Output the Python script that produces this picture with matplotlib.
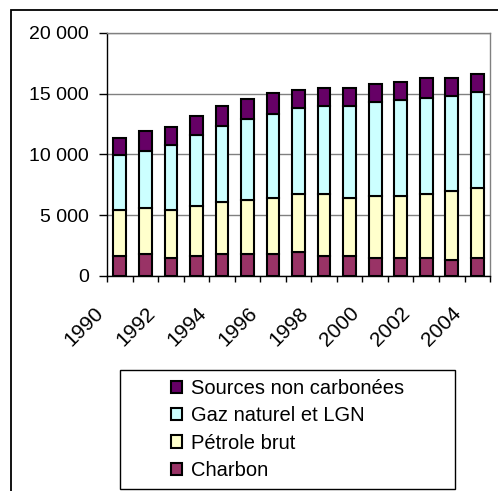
import numpy as np
import matplotlib.pyplot as plt
from matplotlib.patches import Rectangle
from matplotlib.ticker import FuncFormatter
from matplotlib.transforms import ScaledTranslation

plt.rcParams['font.family'] = ['Liberation Sans', 'DejaVu Sans']

# Données
annees = [str(a) for a in range(1990, 2005)]
charbon = [1600, 1790, 1480, 1620, 1790, 1790, 1790, 1950, 1620, 1620, 1460, 1460, 1460, 1320, 1460]
petrole = [3810, 3790, 3930, 4150, 4280, 4450, 4610, 4800, 5110, 4780, 5110, 5110, 5270, 5710, 5770]
gaz = [4540, 4720, 5390, 5850, 6240, 6700, 6900, 7030, 7230, 7560, 7740, 7910, 7890, 7750, 7880]
non_carb = [1400, 1600, 1430, 1570, 1670, 1590, 1730, 1550, 1510, 1510, 1510, 1510, 1670, 1510, 1510]

series = [charbon, petrole, gaz, non_carb]
noms = ['Charbon', 'Pétrole brut', 'Gaz naturel et LGN', 'Sources non carbonées']
couleurs = ['#993366', '#FFFFCC', '#CCFFFF', '#660066']

fig = plt.figure(figsize=(4.98, 4.91), dpi=100)
ax = fig.add_axes([0.215, 0.438, 0.769, 0.495])

x = np.arange(len(annees))
bas = np.zeros(len(annees))
barres = []
for vals, nom, c in zip(series, noms, couleurs):
    b = ax.bar(x, vals, 0.5, bottom=bas, color=c, edgecolor='black', linewidth=1.5, label=nom, zorder=3)
    barres.append(b)
    bas += np.array(vals)

ax.set_xlim(-0.5, len(annees) - 0.5)
ax.set_ylim(0, 20000)
ax.set_yticks([0, 5000, 10000, 15000, 20000])
ax.yaxis.set_major_formatter(FuncFormatter(lambda v, p: f"{int(v):,}".replace(",", " ")))
ax.yaxis.grid(True, color='#808080', linewidth=1, zorder=0)

ax.set_xticks(np.arange(-0.5, len(annees)), minor=True)
ax.set_xticks(x[::2])
ax.set_xticklabels([])
ax.tick_params(axis='x', which='major', length=0)
ax.tick_params(axis='x', which='minor', length=4, width=1, direction='out')
ax.tick_params(axis='y', length=6, width=1, labelsize=14, pad=7)

# années en diagonale sous l'axe
decal = ax.get_xaxis_transform() + ScaledTranslation(-0.19, -0.34, fig.dpi_scale_trans)
for xi, a in zip(x[::2], annees[::2]):
    ax.text(xi, 0, a, transform=decal, rotation=45, ha='right', va='center',
            rotation_mode='anchor', fontsize=15)

for s in ['left', 'bottom']:
    ax.spines[s].set_color('black')
    ax.spines[s].set_linewidth(1)
for s in ['top', 'right']:
    ax.spines[s].set_color('#808080')
    ax.spines[s].set_linewidth(1)

# Cadre extérieur du graphique
fig.patches.append(Rectangle((11 / 498, -0.1), 1.2, 1.1 - 10 / 491, transform=fig.transFigure,
                             fill=False, edgecolor='black', linewidth=1.3))

# Cadre de la légende
lx, ly, lw, lh = 120 / 498, 2 / 491, 335 / 498, 119 / 491
fig.patches.append(Rectangle((lx, ly), lw, lh, transform=fig.transFigure,
                             fill=False, edgecolor='black', linewidth=1))
fig.legend(barres[::-1], noms[::-1], loc='center', bbox_to_anchor=(lx, ly, lw, lh),
           frameon=False, fontsize=14.5, handlelength=0.57, handleheight=0.57,
           handletextpad=0.45, labelspacing=0.42, borderpad=0.2)

fig.savefig('out.png', dpi=100)
